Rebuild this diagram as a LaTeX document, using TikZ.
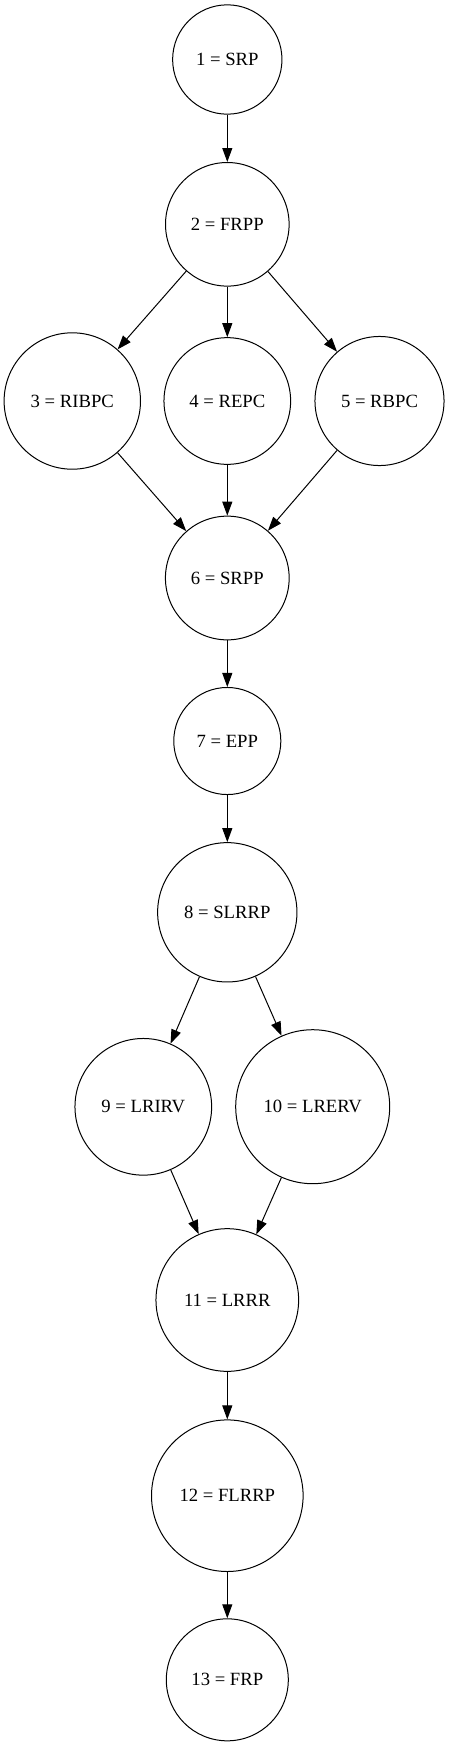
\documentclass[tikz,border=0pt]{standalone}
\usepackage{fontspec}
\setmainfont{Liberation Serif}
\usepackage{tikz}
\usetikzlibrary{arrows.meta}

\begin{document}
\begin{tikzpicture}[x=0.75pt, y=-0.75pt,
    state/.style={circle, draw, line width=0.75pt, inner sep=0pt, font=\fontsize{14pt}{16pt}\selectfont},
    flow/.style={line width=0.75pt, -{Triangle[length=10.5pt, width=7.5pt]}}
]
  \useasboundingbox (0,0) rectangle (449,1746);

  % Start
  \node[state, minimum size=82pt] (srp) at (227.3,59.5) {1 = SRP};
  \node[state, minimum size=92.7pt] (frpp) at (227.3,224.3) {2 = FRPP};

  % drei Zweige
  \node[state, minimum size=102.3pt] (ribpc) at (72.3,401) {3 = RIBPC};
  \node[state, minimum size=95pt] (repc) at (227.3,401) {4 = REPC};
  \node[state, minimum size=96.8pt] (rbpc) at (379.5,401) {5 = RBPC};

  % Zusammenfuehrung
  \node[state, minimum size=92.8pt] (srpp) at (227.3,578) {6 = SRPP};
  \node[state, minimum size=80.3pt] (epp) at (227.3,741) {7 = EPP};
  \node[state, minimum size=104.5pt] (slrrp) at (227.3,912.3) {8 = SLRRP};

  % zwei Zweige
  \node[state, minimum size=102.5pt] (lrirv) at (143.3,1106.8) {9 = LRIRV};
  \node[state, minimum size=115.5pt] (lrerv) at (312.7,1106.7) {10 = LRERV};

  % Ende
  \node[state, minimum size=107pt] (lrrr) at (227.3,1300) {11 = LRRR};
  \node[state, minimum size=113.7pt] (flrrp) at (227.3,1495.7) {12 = FLRRP};
  \node[state, minimum size=91.5pt] (frp) at (227.3,1679.8) {13 = FRP};

  % Kanten
  \draw[flow] (srp) -- (frpp);
  \draw[flow] (frpp) -- (ribpc);
  \draw[flow] (frpp) -- (repc);
  \draw[flow] (frpp) -- (rbpc);
  \draw[flow] (ribpc) -- (srpp);
  \draw[flow] (repc) -- (srpp);
  \draw[flow] (rbpc) -- (srpp);
  \draw[flow] (srpp) -- (epp);
  \draw[flow] (epp) -- (slrrp);
  \draw[flow] (slrrp) -- (lrirv);
  \draw[flow] (slrrp) -- (lrerv);
  \draw[flow] (lrirv) -- (lrrr);
  \draw[flow] (lrerv) -- (lrrr);
  \draw[flow] (lrrr) -- (flrrp);
  \draw[flow] (flrrp) -- (frp);

\end{tikzpicture}
\end{document}
